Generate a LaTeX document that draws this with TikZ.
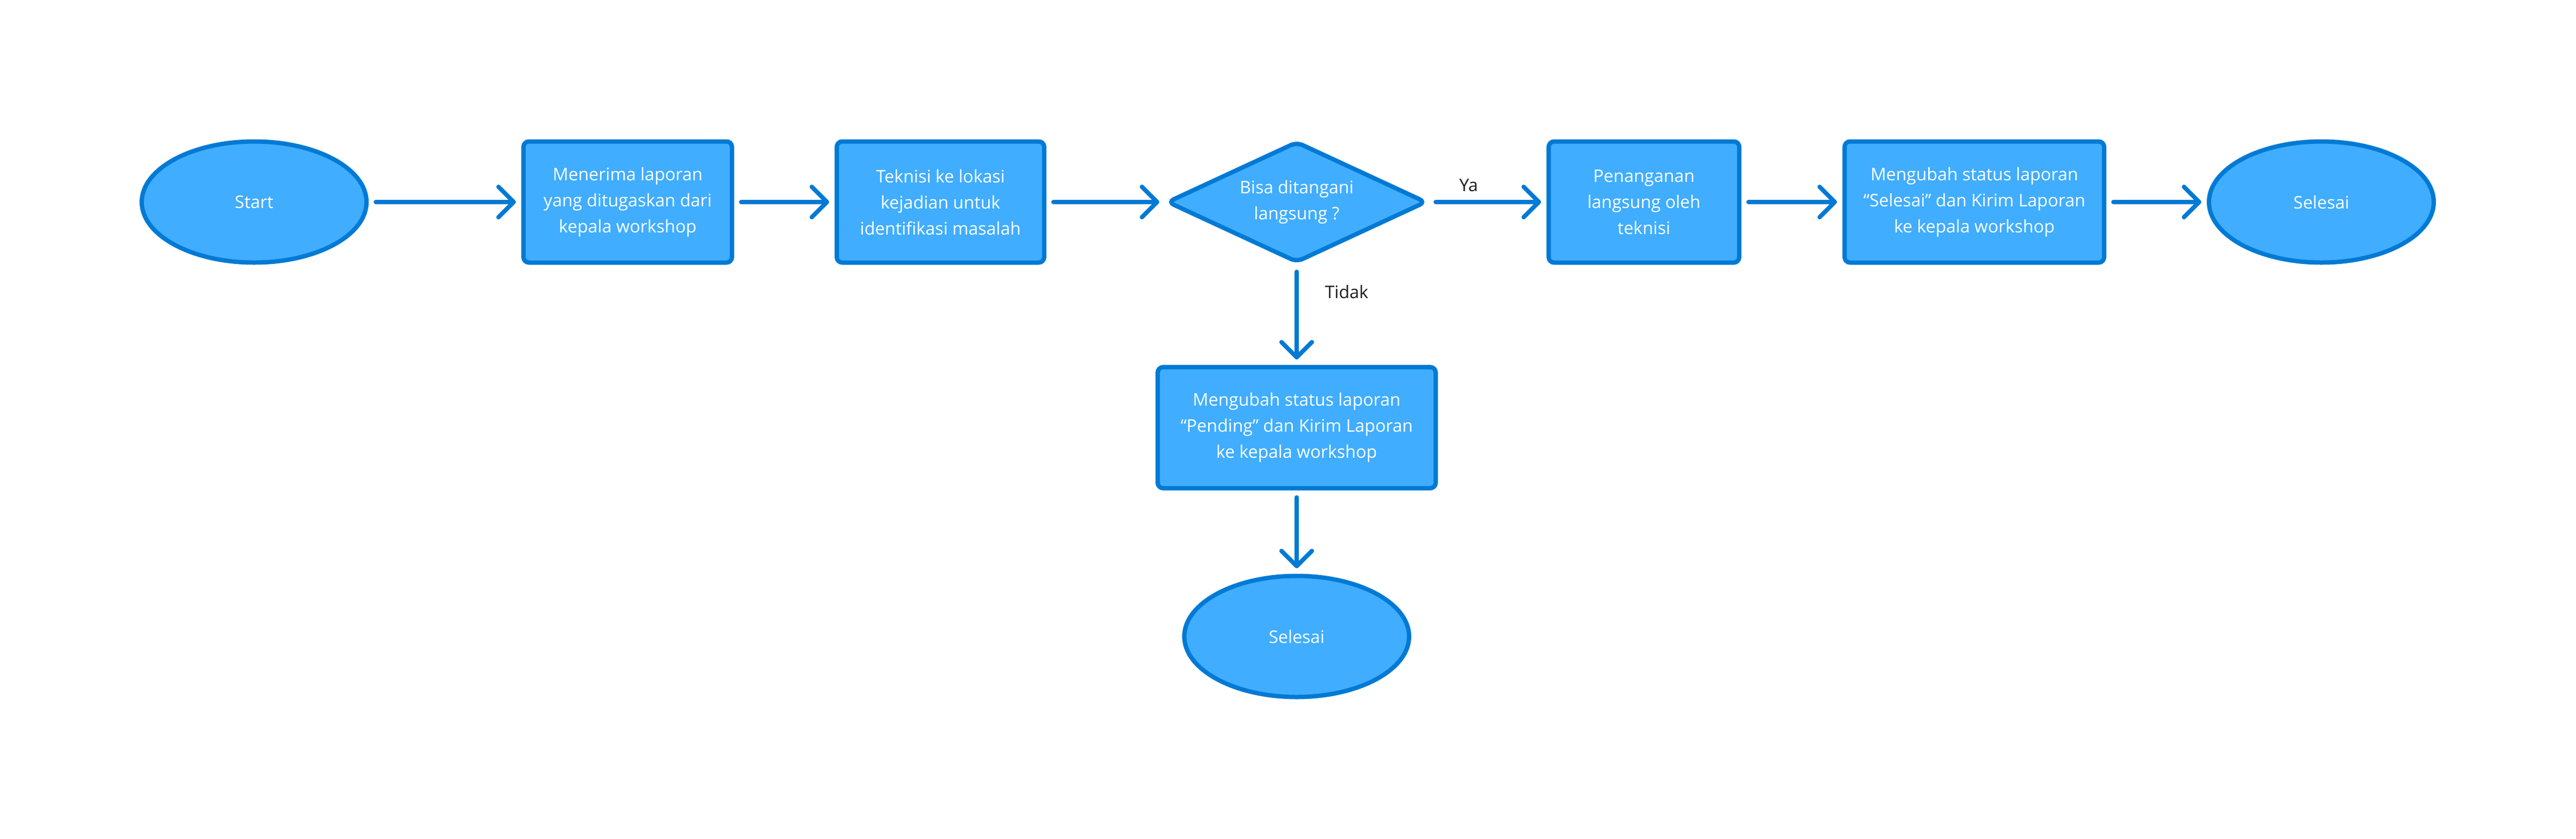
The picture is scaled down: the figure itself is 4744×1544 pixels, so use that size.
\documentclass[tikz,border=0pt]{standalone}
\usepackage{fontspec}
\setmainfont{Open Sans}
\usepackage{tikz}
\usetikzlibrary{positioning,shapes,arrows.meta}
\definecolor{boxfill}{RGB}{64,173,255}
\definecolor{boxline}{RGB}{0,122,212}
\definecolor{lbltext}{RGB}{30,30,30}
\newcommand{\flowfont}{\fontsize{8pt}{12pt}\selectfont}
\tikzset{every picture/.style={line width=2pt},
  terminal/.style={ellipse, draw=boxline, fill=boxfill, line width=2pt, minimum width=103.5pt, minimum height=55.75pt, inner sep=0pt, text=white, font=\flowfont},
  process/.style={rectangle, rounded corners=2.5pt, draw=boxline, fill=boxfill, line width=2pt, minimum height=55.75pt, inner sep=0pt, align=center, text=white, font=\flowfont},
  decision/.style={diamond, aspect=2.14, rounded corners=3pt, draw=boxline, fill=boxfill, line width=2pt, minimum width=119.5pt, minimum height=55.75pt, inner sep=0pt, align=center, text=white, font=\flowfont},
  flow/.style={draw=boxline, line width=2pt, line cap=round, shorten <=3.25pt, shorten >=2.5pt, -{Straight Barb[length=7pt,width=14pt,round]}},
  branch/.style={text=lbltext, inner sep=0pt, font=\flowfont}
}
\begin{document}
\begin{tikzpicture}[x=0.25pt,y=0.25pt,yscale=-1,xscale=1]
%set diagram left start at 0, and has height of 1544
                \path[use as bounding box, fill=white] (0,0) rectangle (4744,1544);

%Shape: Ellipse [start]
                \node[terminal] (start) at (468,372) {Start};
%Shape: Rectangle [menerima]
                \node[process, minimum width=96pt] (recv) at (1156,372) {Menerima laporan\\yang ditugaskan dari\\kepala workshop};
%Shape: Rectangle [teknisi]
                \node[process, minimum width=95.5pt] (visit) at (1732,372) {Teknisi ke lokasi\\kejadian untuk\\identifikasi masalah};
%Shape: Diamond [bisa ditangani]
                \node[decision] (check) at (2388,372) {Bisa ditangani\\langsung ?};
%Shape: Rectangle [penanganan]
                \node[process, minimum width=87.75pt] (direct) at (3027.5,372) {Penanganan\\langsung oleh\\teknisi};
%Shape: Rectangle [status selesai]
                \node[process, minimum width=119.5pt] (report) at (3636,372) {Mengubah status laporan\\“Selesai” dan Kirim Laporan\\ke kepala workshop};
%Shape: Ellipse [selesai]
                \node[terminal] (endA) at (4275,372) {Selesai};
%Shape: Rectangle [status pending]
                \node[process, minimum width=128pt] (pending) at (2388,787.5) {Mengubah status laporan\\“Pending” dan Kirim Laporan\\ke kepala workshop};
%Shape: Ellipse [selesai bawah]
                \node[terminal] (endB) at (2388,1172) {Selesai};

%Straight Lines
                \draw[flow] (start) -- (recv);
                \draw[flow] (recv) -- (visit);
                \draw[flow] (visit) -- (check);
                \draw[flow] (check) -- node[branch, pos=0.34, above=3.75pt] (yes) {Ya} (direct);
                \draw[flow] (direct) -- (report);
                \draw[flow] (report) -- (endA);
                \draw[flow] (check) -- node[branch, pos=0.27, right=12pt] (no) {Tidak} (pending);
                \draw[flow] (pending) -- (endB);

            \end{tikzpicture}
\end{document}
